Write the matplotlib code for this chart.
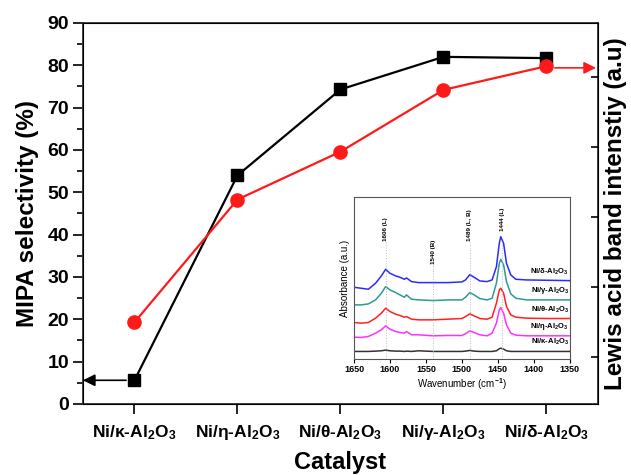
import matplotlib
matplotlib.use("Agg")
import matplotlib.pyplot as plt
from matplotlib.ticker import MultipleLocator

plt.rcParams['font.family'] = ['Liberation Sans', 'DejaVu Sans']
plt.rcParams['font.weight'] = 'bold'
plt.rcParams['mathtext.fontset'] = 'custom'
plt.rcParams['mathtext.bf'] = 'Liberation Sans:bold'
plt.rcParams['mathtext.rm'] = 'Liberation Sans:bold'
plt.rcParams['mathtext.default'] = 'bf'

# main data
catalysts = ["Ni/κ-Al$_2$O$_3$", "Ni/η-Al$_2$O$_3$", "Ni/θ-Al$_2$O$_3$",
             "Ni/γ-Al$_2$O$_3$", "Ni/δ-Al$_2$O$_3$"]
mipa_sel = [5.6, 54.0, 74.3, 82.0, 81.7]
lewis_int = [19.3, 48.3, 59.6, 74.2, 79.8]
lewis_ticks = [77.2, 60.7, 44.2, 27.6, 11.1]

# inset FTIR spectra (absorbance, a.u.)
wn = [1650, 1640, 1630, 1620, 1612, 1606, 1600, 1592, 1586, 1580, 1577, 1570,
      1560, 1540, 1520, 1500, 1495, 1489, 1483, 1475, 1465, 1458, 1452, 1448,
      1446, 1442, 1438, 1432, 1425, 1410, 1380, 1350]
ir_delta = [2.16, 2.13, 2.10, 2.28, 2.50, 2.70, 2.58, 2.50, 2.46, 2.40, 2.44, 2.33,
            2.30, 2.30, 2.30, 2.32, 2.38, 2.54, 2.46, 2.35, 2.33, 2.38, 2.78, 3.48,
            3.68, 3.48, 2.88, 2.53, 2.40, 2.38, 2.37, 2.36]
ir_gamma = [1.63, 1.63, 1.66, 1.78, 1.98, 2.18, 2.08, 2.00, 1.93, 1.86, 1.93, 1.80,
            1.78, 1.76, 1.78, 1.78, 1.86, 2.00, 1.93, 1.82, 1.78, 1.83, 2.28, 2.88,
            3.00, 2.83, 2.33, 1.96, 1.83, 1.78, 1.78, 1.78]
ir_theta = [1.10, 1.08, 1.10, 1.23, 1.38, 1.53, 1.43, 1.35, 1.31, 1.26, 1.28, 1.20,
            1.18, 1.18, 1.20, 1.22, 1.28, 1.36, 1.30, 1.22, 1.20, 1.26, 1.68, 2.08,
            2.13, 1.98, 1.58, 1.33, 1.26, 1.23, 1.22, 1.22]
ir_eta = [0.66, 0.65, 0.68, 0.78, 0.88, 1.00, 0.90, 0.83, 0.80, 0.78, 0.83, 0.73,
          0.73, 0.70, 0.71, 0.71, 0.76, 0.85, 0.80, 0.73, 0.70, 0.78, 1.08, 1.48,
          1.55, 1.38, 1.03, 0.78, 0.72, 0.70, 0.70, 0.70]
ir_kappa = [0.23, 0.23, 0.23, 0.24, 0.25, 0.27, 0.25, 0.24, 0.24, 0.23, 0.24, 0.23,
            0.25, 0.23, 0.23, 0.23, 0.24, 0.26, 0.24, 0.23, 0.23, 0.23, 0.25, 0.31,
            0.33, 0.30, 0.25, 0.23, 0.23, 0.23, 0.23, 0.23]
ir_labels = ["Ni/δ-Al$_2$O$_3$", "Ni/γ-Al$_2$O$_3$", "Ni/θ-Al$_2$O$_3$",
             "Ni/η-Al$_2$O$_3$", "Ni/κ-Al$_2$O$_3$"]
ir_colors = ["#2b2bff", "#2e9a94", "#ff2020", "#ff30ff", "#333333"]
band_pos = [1606, 1540, 1489, 1444]
band_names = ["1606 (L)", "1540 (B)", "1489 (L, B)", "1444 (L)"]

fig = plt.figure(figsize=(6.31, 4.75), dpi=100)
ax = fig.add_axes([0.1315, 0.1495, 0.8162, 0.8021])
x = list(range(len(catalysts)))
ax.plot(x, mipa_sel, color="black", marker="s", markersize=8.5, lw=1.6, zorder=3)
ax.set_xlim(-0.5, 4.5)
ax.set_ylim(0, 90)
ax.set_xticks(x)
ax.set_xticklabels(catalysts, fontsize=12.5, fontweight="bold")
ax.yaxis.set_major_locator(MultipleLocator(10))
ax.yaxis.set_minor_locator(MultipleLocator(5))
ax.tick_params(axis="y", labelsize=14, length=7, width=1.2, pad=3)
ax.tick_params(axis="y", which="minor", length=4, width=1.2)
ax.tick_params(axis="x", length=7, width=1.2, pad=7)
ax.set_ylabel("MIPA selectivity (%)", fontsize=17.5, fontweight="bold", labelpad=6)
ax.set_xlabel("Catalyst", fontsize=17, fontweight="bold", labelpad=6)
for sp in ax.spines.values():
    sp.set_linewidth(1.3)
    sp.set_color("#333333")

ax2 = ax.twinx()
ax2.plot(x, lewis_int, color="#ff1a1a", marker="o", markersize=9.5, lw=1.6, zorder=3)
ax2.set_ylim(0, 90)
ax2.set_yticks(lewis_ticks)
ax2.set_yticklabels([])
ax2.tick_params(axis="y", direction="in", length=5, width=1.2)
ax2.set_ylabel("Lewis acid band intenstiy (a.u)", fontsize=17.5, fontweight="bold",
               labelpad=1)

ax.annotate("", xy=(-0.5, mipa_sel[0]), xytext=(0, mipa_sel[0]),
            arrowprops=dict(arrowstyle="-|>", color="black", lw=1.2,
                            mutation_scale=18, shrinkA=6, shrinkB=0))
ax2.annotate("", xy=(4.48, lewis_int[-1] - 0.4), xytext=(4, lewis_int[-1] - 0.4),
             arrowprops=dict(arrowstyle="-|>", color="#ff1a1a", lw=1.2,
                             mutation_scale=18, shrinkA=6, shrinkB=0))

# inset
ins = fig.add_axes([0.561, 0.244, 0.342, 0.341])
for yv, c in zip([ir_delta, ir_gamma, ir_theta, ir_eta, ir_kappa], ir_colors):
    ins.plot(wn, yv, color=c, lw=1.1)
for lab, yv, c in zip(ir_labels, [ir_delta, ir_gamma, ir_theta, ir_eta, ir_kappa], ir_colors):
    ins.text(1351, yv[-1] + 0.12, lab, fontsize=5.5, ha="right", va="bottom")
for p, n in zip(band_pos, band_names):
    ins.axvline(p, ymax=0.72 if p != 1540 else 0.58, color="#bbbbbb", lw=0.7, ls=":")
ins.text(1606, 3.55, band_names[0], rotation=90, fontsize=4.5, ha="center", va="bottom")
ins.text(1540, 2.85, band_names[1], rotation=90, fontsize=4.5, ha="center", va="bottom")
ins.text(1489, 3.55, band_names[2], rotation=90, fontsize=4.5, ha="center", va="bottom")
ins.text(1444, 3.85, band_names[3], rotation=90, fontsize=4.5, ha="center", va="bottom")
ins.set_xlim(1650, 1350)
ins.set_ylim(0, 4.87)
ins.set_xticks([1650, 1600, 1550, 1500, 1450, 1400, 1350])
ins.set_yticks([])
ins.tick_params(axis="x", labelsize=6.5, length=3, pad=1.5)
ins.set_xlabel("Wavenumber (cm$^{-1}$)", fontsize=7, labelpad=1.5)
ins.set_ylabel("Absorbance (a.u.)", fontsize=7, labelpad=3)
for sp in ins.spines.values():
    sp.set_linewidth(0.8)
    sp.set_color("#555555")

fig.savefig("out.png", dpi=100)
